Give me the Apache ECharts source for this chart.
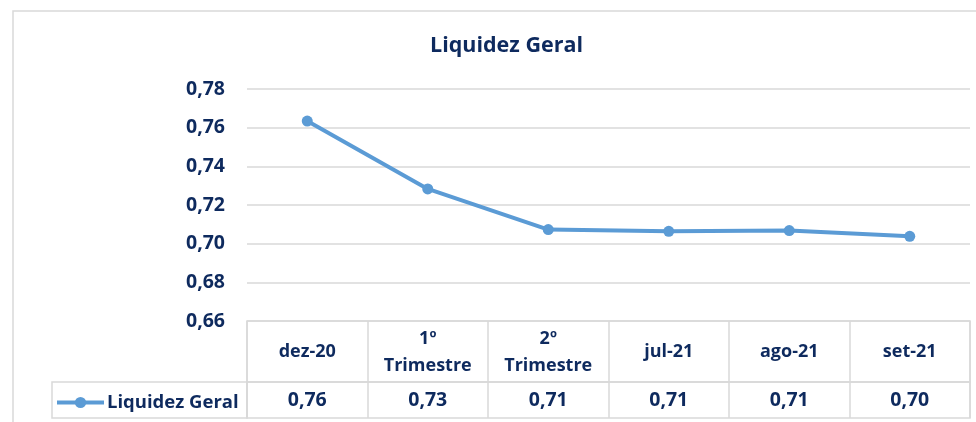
<!DOCTYPE html>
<html>
<head>
<meta charset="utf-8">
<script src="https://cdn.jsdelivr.net/npm/echarts@6/dist/echarts.min.js"></script>
<style>
  html, body { margin: 0; padding: 0; background: #fff; }
  #chart { width: 976px; height: 422px; }
</style>
</head>
<body>
<div id="chart"></div>
<script>
const title = "Liquidez Geral"
const seriesName = "Liquidez Geral"
const categories = ["dez-20", "1º\nTrimestre", "2º\nTrimestre", "jul-21", "ago-21", "set-21"]
const values = [0.7634, 0.7283, 0.7073, 0.7064, 0.7068, 0.7038]
const yMin = 0.66
const yMax = 0.78
const yStep = 0.02

const navy = "#0e2a5e"
const gridGray = "#d9d9d9"
const lineBlue = "#5b9bd5"
const font = "Open Sans"
const fontSize = 18
const numSize = 19.5

const fmt = (v) => v.toFixed(2).replace(".", ",")

const chart = echarts.init(document.getElementById("chart"), null, { renderer: "canvas" })

const option = {
    animation: false,
    textStyle: { fontFamily: font },
    title: {
        text: title,
        left: 425,
        top: 30,
        textStyle: { color: navy, fontSize: 21.5, fontWeight: "bold", fontFamily: font },
    },
    legend: {
        left: 50,
        top: 388,
        itemWidth: 47,
        itemHeight: 14,
        itemGap: 4,
        data: [seriesName],
        lineStyle: { width: 4 },
        textStyle: { color: navy, fontSize: 18.5, fontWeight: "bold", fontFamily: font, padding: [0, 0, 0, -2] },
    },
    graphic: [
        {
            type: "rect",
            silent: true,
            z: -10,
            shape: { x: 13, y: 11, width: 1000, height: 500 },
            style: { fill: "none", stroke: gridGray, lineWidth: 1.5 },
        },
        {
            type: "rect",
            silent: true,
            shape: { x: 52, y: 382, width: 195, height: 36 },
            style: { fill: "none", stroke: gridGray, lineWidth: 1.5 },
        },
    ],
    grid: [
        { left: 247, right: 6, top: 89, height: 232 },
        { left: 247, right: 6, top: 321, height: 61, show: true, borderColor: gridGray, borderWidth: 1.5 },
        { left: 247, right: 6, top: 382, height: 36, show: true, borderColor: gridGray, borderWidth: 1.5 },
    ],
    xAxis: [
        {
            gridIndex: 0,
            type: "category",
            data: categories,
            boundaryGap: true,
            axisLine: { show: false },
            axisTick: { show: false },
            axisLabel: { show: false },
        },
        {
            gridIndex: 1,
            type: "category",
            data: categories,
            axisLine: { show: false },
            axisTick: { show: false },
            splitLine: { show: true, interval: 0, lineStyle: { color: gridGray, width: 1.5 } },
            axisLabel: {
                inside: true,
                margin: 30,
                interval: 0,
                verticalAlign: "middle",
                lineHeight: 27,
                color: navy,
                fontSize: fontSize,
                fontWeight: "bold",
                fontFamily: font,
            },
        },
        {
            gridIndex: 2,
            type: "category",
            data: categories,
            axisLine: { show: false },
            axisTick: { show: false },
            splitLine: { show: true, interval: 0, lineStyle: { color: gridGray, width: 1.5 } },
            axisLabel: {
                inside: true,
                margin: 18,
                interval: 0,
                verticalAlign: "middle",
                color: navy,
                fontSize: numSize,
                fontWeight: "bold",
                fontFamily: font,
                formatter: (v, i) => fmt(values[i]),
            },
        },
    ],
    yAxis: [
        {
            gridIndex: 0,
            type: "value",
            min: yMin,
            max: yMax,
            interval: yStep,
            axisLine: { show: false },
            axisTick: { show: false },
            splitLine: { lineStyle: { color: gridGray, width: 1.5 } },
            axisLabel: {
                margin: 22,
                color: navy,
                fontSize: numSize,
                fontWeight: "bold",
                fontFamily: font,
                formatter: fmt,
            },
        },
        { gridIndex: 1, type: "value", show: false },
        { gridIndex: 2, type: "value", show: false },
    ],
    series: [
        {
            name: seriesName,
            type: "line",
            xAxisIndex: 0,
            yAxisIndex: 0,
            data: values,
            symbol: "circle",
            symbolSize: 11,
            color: lineBlue,
            lineStyle: { width: 4, color: lineBlue },
            itemStyle: { color: lineBlue },
        },
    ],
}

chart.setOption(option)
</script>
</body>
</html>
